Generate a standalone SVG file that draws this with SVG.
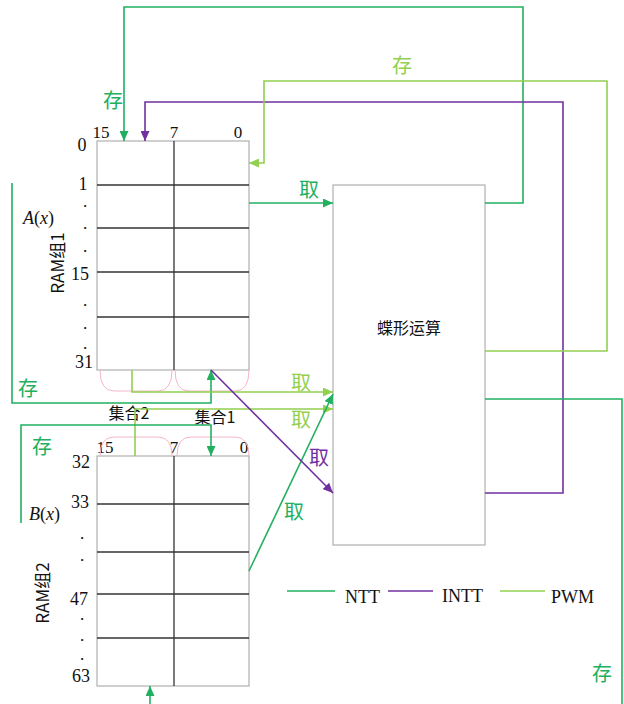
<svg xmlns="http://www.w3.org/2000/svg" width="624" height="704" viewBox="0 0 624 704">
<style>
.box{fill:#fff;stroke:#b0b0b0;stroke-width:1.2}
.row{stroke:#333;stroke-width:1.3}
.num{font-family:"Liberation Serif",serif;font-size:18px;fill:#111;text-anchor:middle}
.dot{font-family:"Liberation Serif",serif;font-size:13px;font-weight:bold;fill:#111;text-anchor:middle}
.col{font-family:"Liberation Serif",serif;font-size:17px;fill:#111;text-anchor:middle}
.cn{font-family:"Noto Sans CJK SC",sans-serif;font-size:16px;fill:#111;text-anchor:middle}
.lab{font-family:"Noto Sans CJK SC",sans-serif;font-size:20px;text-anchor:middle}
.ntt{fill:none;stroke:#22b060;stroke-width:1.6}
.intt{fill:none;stroke:#7030a0;stroke-width:1.6}
.pwm{fill:none;stroke:#92d050;stroke-width:1.6}
.pink{fill:none;stroke:#f4b6c6;stroke-width:1}
.leg{font-family:"Liberation Serif",serif;font-size:18px;fill:#111}
</style>
<defs>
<marker id="aG" markerUnits="userSpaceOnUse" markerWidth="10" markerHeight="9" refX="10" refY="4.5" orient="auto"><path d="M0,0 L10,4.5 L0,9 z" fill="#22b060"/></marker>
<marker id="aP" markerUnits="userSpaceOnUse" markerWidth="10" markerHeight="9" refX="10" refY="4.5" orient="auto"><path d="M0,0 L10,4.5 L0,9 z" fill="#7030a0"/></marker>
<marker id="aL" markerUnits="userSpaceOnUse" markerWidth="10" markerHeight="9" refX="10" refY="4.5" orient="auto"><path d="M0,0 L10,4.5 L0,9 z" fill="#92d050"/></marker>
</defs>

<g id="ram1">
<rect class="box" x="97" y="141" width="152" height="229"/>
<line class="row" x1="97" y1="185" x2="249" y2="185"/>
<line class="row" x1="97" y1="228" x2="249" y2="228"/>
<line class="row" x1="97" y1="272" x2="249" y2="272"/>
<line class="row" x1="97" y1="317" x2="249" y2="317"/>
<line class="row" x1="174" y1="141" x2="174" y2="370"/>
<text class="col" x="101" y="138">15</text>
<text class="col" x="174" y="138">7</text>
<text class="col" x="238" y="138">0</text>
<text class="num" x="82" y="151">0</text>
<text class="num" x="83" y="190">1</text>
<text class="dot" x="85" y="207">.</text>
<text class="dot" x="85" y="229">.</text>
<text class="dot" x="85" y="252">.</text>
<text class="num" x="80" y="280">15</text>
<text class="dot" x="85" y="306">.</text>
<text class="dot" x="85" y="329">.</text>
<text class="dot" x="85" y="349">.</text>
<text class="num" x="84" y="368">31</text>
<text x="23" y="224" style="font-family:'Liberation Serif',serif;font-size:18px;fill:#111"><tspan font-style="italic">A</tspan>(<tspan font-style="italic">x</tspan>)</text>
<text class="cn" transform="translate(64,263) rotate(-90)" style="font-size:17px">RAM组1</text>
<path class="pink" d="M100,370 Q100,391 114,391 H158 Q172,391 172,370"/>
<path class="pink" d="M175,370 Q175,391 189,391 H235 Q249,391 249,370"/>
</g>

<g id="ram2">
<rect class="box" x="97" y="456" width="152" height="230"/>
<line class="row" x1="97" y1="504" x2="249" y2="504"/>
<line class="row" x1="97" y1="552" x2="249" y2="552"/>
<line class="row" x1="97" y1="594" x2="249" y2="594"/>
<line class="row" x1="97" y1="638" x2="249" y2="638"/>
<line class="row" x1="174" y1="456" x2="174" y2="686"/>
<text class="col" x="105" y="453">15</text>
<text class="col" x="174" y="453">7</text>
<text class="col" x="244" y="453">0</text>
<text class="num" x="81" y="468">32</text>
<text class="num" x="80" y="508">33</text>
<text class="dot" x="82" y="539">.</text>
<text class="dot" x="82" y="561">.</text>
<text class="num" x="79" y="605">47</text>
<text class="dot" x="82" y="620">.</text>
<text class="dot" x="82" y="641">.</text>
<text class="dot" x="82" y="660">.</text>
<text class="num" x="81" y="682">63</text>
<text x="29" y="520" style="font-family:'Liberation Serif',serif;font-size:18px;fill:#111"><tspan font-style="italic">B</tspan>(<tspan font-style="italic">x</tspan>)</text>
<text class="cn" transform="translate(49,593) rotate(-90)" style="font-size:17px">RAM组2</text>
<path class="pink" d="M100,456 Q100,437 114,437 H158 Q172,437 172,456"/>
<path class="pink" d="M177,456 Q177,437 191,437 H235 Q249,437 249,456"/>
</g>

<g id="butterfly">
<rect class="box" x="333" y="185" width="152" height="360"/>
<text class="cn" x="409" y="334">蝶形运算</text>
</g>

<g id="sets">
<text class="cn" x="129" y="419">集合2</text>
<text class="cn" x="215" y="423">集合1</text>
</g>

<g id="connectors">
<path class="ntt" d="M485,203 H523 V7 H124 V141" marker-end="url(#aG)"/>
<path class="intt" d="M485,493 H563 V102 H145 V141" marker-end="url(#aP)"/>
<path class="pwm" d="M485,351 H607 V81 H264 V163 H249" marker-end="url(#aL)"/>
<path class="ntt" d="M485,399 H622 V704"/>
<path class="ntt" d="M249,203 H333" marker-end="url(#aG)"/>
<path class="ntt" d="M12,183 V403 H211 V370" marker-end="url(#aG)"/>
<path class="pwm" d="M132,370 V392 H333" marker-end="url(#aL)"/>
<path class="pwm" d="M135,456 V409 H333" marker-end="url(#aL)"/>
<path class="ntt" d="M21,523 V425 H211 V456" marker-end="url(#aG)"/>
<path class="ntt" d="M150,704 V686" marker-end="url(#aG)"/>
<path class="ntt" d="M249,571 L333,394" marker-end="url(#aG)"/>
<path class="intt" d="M211,370 L333,493" marker-end="url(#aP)"/>
<text class="lab" x="113" y="108" fill="#22b060">存</text>
<text class="lab" x="402" y="73" fill="#92d050">存</text>
<text class="lab" x="309" y="197" fill="#22b060">取</text>
<text class="lab" x="28" y="396" fill="#22b060">存</text>
<text class="lab" x="301" y="390" fill="#92d050">取</text>
<text class="lab" x="301" y="427" fill="#92d050">取</text>
<text class="lab" x="42" y="454" fill="#22b060">存</text>
<text class="lab" x="319" y="465" fill="#7030a0">取</text>
<text class="lab" x="294" y="519" fill="#22b060">取</text>
<text class="lab" x="602" y="681" fill="#22b060">存</text>
</g>

<g id="legend">
<line class="ntt" x1="287" y1="591" x2="335" y2="591"/>
<text class="leg" x="345" y="603">NTT</text>
<line class="intt" x1="388" y1="591" x2="433" y2="591"/>
<text class="leg" x="442" y="602">INTT</text>
<line class="pwm" x1="500" y1="591" x2="545" y2="591"/>
<text class="leg" x="551" y="603">PWM</text>
</g>
</svg>
